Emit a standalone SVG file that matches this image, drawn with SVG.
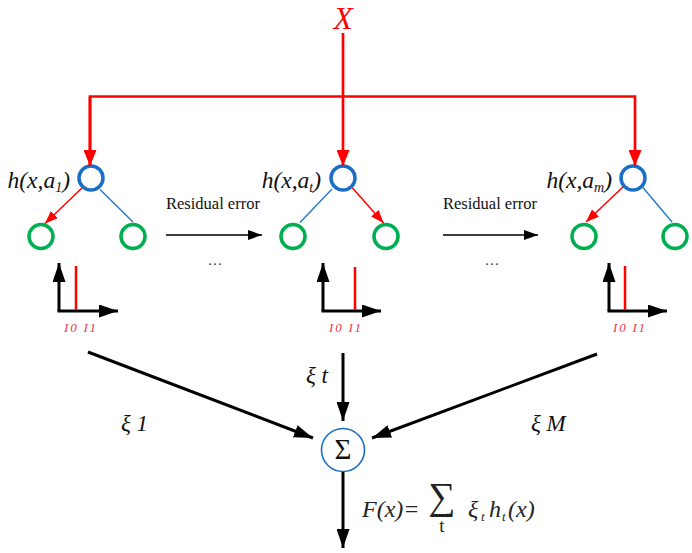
<svg xmlns="http://www.w3.org/2000/svg" width="692" height="553" viewBox="0 0 692 553">
<style>
text{font-family:'Liberation Serif','Times New Roman','DejaVu Serif',serif;}
.it{font-style:italic;}
.red{stroke:#ff0000;fill:none;}
.blk{stroke:#000;fill:none;}
.bc{fill:none;stroke:#1a6fc4;stroke-width:3.5;}
.gc{fill:none;stroke:#00b050;stroke-width:3.5;}
.be{stroke:#1f7ad0;stroke-width:1.4;fill:none;}
.lbl{font-size:23.5px;fill:#111;}
.io{font-size:13px;fill:#e8384f;letter-spacing:1.8px;}
.w{font-size:23px;fill:#111;}
</style>
<defs>
<marker id="mRB" markerUnits="userSpaceOnUse" markerWidth="16" markerHeight="13" refX="16" refY="6.5" orient="auto"><path d="M0,0 L16,6.5 L0,13 z" fill="#ff0000"/></marker>
<marker id="mRS" markerUnits="userSpaceOnUse" markerWidth="13" markerHeight="10" refX="13" refY="5" orient="auto"><path d="M0,0 L13,5 L0,10 z" fill="#ff0000"/></marker>
<marker id="mKB" markerUnits="userSpaceOnUse" markerWidth="19" markerHeight="13" refX="19" refY="6.5" orient="auto"><path d="M0,0 L19,6.5 L0,13 z" fill="#000"/></marker>
<marker id="mKS" markerUnits="userSpaceOnUse" markerWidth="14" markerHeight="10" refX="14" refY="5" orient="auto"><path d="M0,0 L14,5 L0,10 z" fill="#000"/></marker>
</defs>

<g id="input-x">
<text class="it" x="343" y="28.5" font-size="31.5" fill="#ff0000" text-anchor="middle">X</text>
</g>

<g id="tree1">
<circle class="bc" cx="91" cy="178" r="12"/>
<circle class="gc" cx="41" cy="236.5" r="12"/>
<circle class="gc" cx="133" cy="236.5" r="12"/>
<text class="it lbl" x="70" y="188" text-anchor="end">h(x,a<tspan font-size="14" dy="4">1</tspan><tspan dy="-4">)</tspan></text>
</g>
<g id="tree2">
<circle class="bc" cx="343" cy="178" r="12"/>
<circle class="gc" cx="293" cy="236.5" r="12"/>
<circle class="gc" cx="386" cy="236.5" r="12"/>
<text class="it lbl" x="321" y="188" text-anchor="end">h(x,a<tspan font-size="14" dy="4">t</tspan><tspan dy="-4">)</tspan></text>
</g>
<g id="tree3">
<circle class="bc" cx="633" cy="178" r="12"/>
<circle class="gc" cx="584" cy="236.5" r="12"/>
<circle class="gc" cx="675" cy="236.5" r="12"/>
<text class="it lbl" x="612" y="188" text-anchor="end">h(x,a<tspan font-size="14" dy="4">m</tspan><tspan dy="-4">)</tspan></text>
</g>

<g id="hist1">
<line class="blk" stroke-width="3" x1="59" y1="311" x2="59" y2="263" marker-end="url(#mKB)"/>
<line class="blk" stroke-width="3" x1="57.5" y1="311" x2="118" y2="311" marker-end="url(#mKB)"/>
<line class="red" stroke-width="2.5" x1="76" y1="266" x2="76" y2="310"/>
<text class="it io" x="64" y="332">I0 I1</text>
</g>
<g id="hist2">
<line class="blk" stroke-width="3" x1="323" y1="311" x2="323" y2="263" marker-end="url(#mKB)"/>
<line class="blk" stroke-width="3" x1="321.5" y1="311" x2="381" y2="311" marker-end="url(#mKB)"/>
<line class="red" stroke-width="2.5" x1="355" y1="267" x2="355" y2="310"/>
<text class="it io" x="329" y="332">I0 I1</text>
</g>
<g id="hist3">
<line class="blk" stroke-width="3" x1="609" y1="311" x2="609" y2="263" marker-end="url(#mKB)"/>
<line class="blk" stroke-width="3" x1="607.5" y1="311" x2="667" y2="311" marker-end="url(#mKB)"/>
<line class="red" stroke-width="2.5" x1="625" y1="266" x2="625" y2="310"/>
<text class="it io" x="613" y="332">I0 I1</text>
</g>

<g id="sum">
<circle cx="343" cy="450" r="21.5" fill="none" stroke="#1a6fc4" stroke-width="1.6"/>
<text x="343" y="458.5" font-size="29" text-anchor="middle" fill="#111">Σ</text>
</g>

<g id="connectors">
<polyline class="red" stroke-width="2.7" points="90,166 90,96.5 635,96.5 635,166" marker-end="url(#mRB)"/>
<line class="red" stroke-width="2.7" x1="90" y1="96.5" x2="90" y2="166" marker-end="url(#mRB)"/>
<line class="red" stroke-width="2.7" x1="343" y1="33" x2="343" y2="166" marker-end="url(#mRB)"/>

<line class="red" stroke-width="1.5" x1="82" y1="188" x2="45" y2="223.5" marker-end="url(#mRS)"/>
<line class="be" x1="100" y1="189.5" x2="133" y2="222"/>
<line class="be" x1="332" y1="189" x2="300" y2="222.5"/>
<line class="red" stroke-width="1.5" x1="352.5" y1="188" x2="383.5" y2="223" marker-end="url(#mRS)"/>
<line class="red" stroke-width="1.5" x1="623" y1="187" x2="586" y2="222" marker-end="url(#mRS)"/>
<line class="be" x1="642.5" y1="187" x2="672" y2="222"/>

<line class="blk" stroke-width="1.5" x1="166" y1="235" x2="262" y2="235" marker-end="url(#mKS)"/>
<line class="blk" stroke-width="1.5" x1="443" y1="235" x2="538" y2="235" marker-end="url(#mKS)"/>
<text x="215" y="265" font-size="15" text-anchor="middle" fill="#333">…</text>
<text x="492" y="265" font-size="15" text-anchor="middle" fill="#333">…</text>
<text x="166" y="209" font-size="16.5" fill="#111">Residual error</text>
<text x="443" y="209" font-size="16.5" fill="#111">Residual error</text>

<line class="blk" stroke-width="3" x1="88" y1="352" x2="313" y2="438" marker-end="url(#mKB)"/>
<line class="blk" stroke-width="3" x1="343" y1="353" x2="343" y2="421" marker-end="url(#mKB)"/>
<line class="blk" stroke-width="3" x1="597" y1="354" x2="372" y2="438" marker-end="url(#mKB)"/>
<line class="blk" stroke-width="3" x1="343" y1="472" x2="343" y2="548" marker-end="url(#mKB)"/>

<text class="it w" x="306" y="383">ξ t</text>
<text class="it w" x="121" y="431">ξ 1</text>
<text class="it w" x="531" y="431">ξ M</text>

<text class="it" x="362" y="517" font-size="24" fill="#222">F(x)=</text>
<text x="442" y="509" font-size="38" text-anchor="middle" fill="#222">∑</text>
<text x="442" y="532" font-size="19" text-anchor="middle" fill="#222">t</text>
<text class="it" font-size="24" fill="#222"><tspan x="468" y="517">ξ</tspan><tspan x="481" y="521" font-size="13">t</tspan><tspan x="489" y="517">h</tspan><tspan x="502" y="521" font-size="13">t</tspan><tspan x="508" y="517">(x)</tspan></text>
</g>
</svg>
